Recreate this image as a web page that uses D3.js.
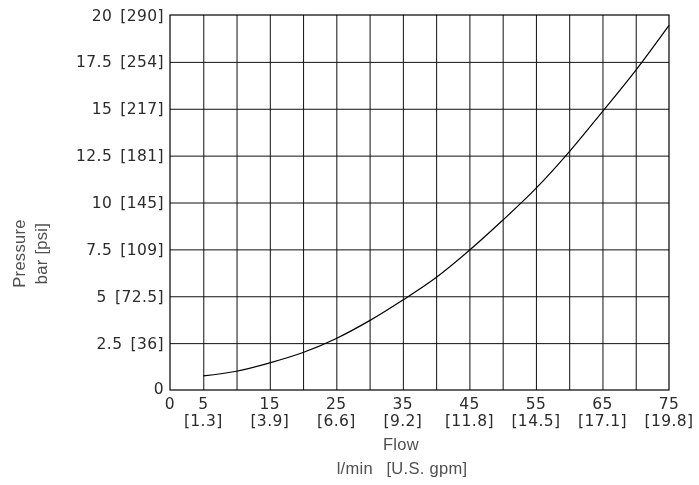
<!DOCTYPE html>
<html>
<head>
<meta charset="utf-8">
<script src="https://cdn.jsdelivr.net/npm/d3@7"></script>
<style>
  html, body { margin: 0; padding: 0; background: #fff; }
  svg { display: block; will-change: transform; }
  .tick-label { font-family: "DejaVu Sans", sans-serif; font-size: 15.5px; fill: #2b2b2b; letter-spacing: 0.4px; white-space: pre; }
  .axis-title { font-family: "Liberation Sans", Arial, sans-serif; font-size: 16.5px; fill: #505050; letter-spacing: 0.3px; white-space: pre; }
</style>
</head>
<body>
<svg id="chart" width="699" height="485"></svg>
<script>
// Flow (l/min) vs pressure drop (bar)
const flowLpm = [5, 10, 15, 20, 25, 30, 35, 40, 45, 50, 55, 60, 65, 70, 75];
const pressureBar = [0.75, 1.0, 1.45, 2.0, 2.75, 3.7, 4.8, 6.0, 7.45, 9.05, 10.75, 12.7, 14.85, 17.05, 19.45];

// Axis ticks and labels
const xGrid = [5, 10, 15, 20, 25, 30, 35, 40, 45, 50, 55, 60, 65, 70];
const xTicks = [0, 5, 15, 25, 35, 45, 55, 65, 75];
const xTickGpm = ["", "[1.3]", "[3.9]", "[6.6]", "[9.2]", "[11.8]", "[14.5]", "[17.1]", "[19.8]"];
const yTicks = [0, 2.5, 5, 7.5, 10, 12.5, 15, 17.5, 20];
const yTickPsi = ["", "[36]", "[72.5]", "[109]", "[145]", "[181]", "[217]", "[254]", "[290]"];

const svg = d3.select("#chart");
const plotL = 170, plotR = 669, plotT = 15, plotB = 390;

const x = d3.scaleLinear().domain([0, 75]).range([plotL, plotR]);
const y = d3.scaleLinear().domain([0, 20]).range([plotB, plotT]);

// Grid lines
const gx = svg.append("g")
  .attr("transform", `translate(0,${plotB})`)
  .call(d3.axisBottom(x).tickValues(xGrid).tickSize(-(plotB - plotT)).tickFormat(""));
const gy = svg.append("g")
  .attr("transform", `translate(${plotL},0)`)
  .call(d3.axisLeft(y).tickValues(yTicks.slice(1, -1)).tickSize(-(plotR - plotL)).tickFormat(""));
[gx, gy].forEach(g => {
  g.select(".domain").remove();
  g.selectAll(".tick line").attr("stroke", "#111").attr("stroke-width", 1);
});

// Plot frame
svg.append("rect")
  .attr("x", plotL).attr("y", plotT)
  .attr("width", plotR - plotL).attr("height", plotB - plotT)
  .attr("fill", "none").attr("stroke", "#000").attr("stroke-width", 1.2);

// Pressure curve
const line = d3.line()
  .x((d, i) => x(flowLpm[i]))
  .y(d => y(d))
  .curve(d3.curveMonotoneX);
svg.append("path")
  .datum(pressureBar)
  .attr("d", line)
  .attr("fill", "none")
  .attr("stroke", "#000")
  .attr("stroke-width", 1.2);

// Y tick labels: bar [psi]
yTicks.forEach((v, i) => {
  svg.append("text")
    .attr("class", "tick-label")
    .attr("text-anchor", "end")
    .attr("x", plotL - 6)
    .attr("y", v === 0 ? y(v) + 4 : y(v) + 5.5)
    .text(yTickPsi[i] ? `${v}\u2002${yTickPsi[i]}` : `${v}`);
});

// X tick labels: l/min over [gpm]
xTicks.forEach((v, i) => {
  const g = svg.append("g");
  g.append("text")
    .attr("class", "tick-label")
    .attr("text-anchor", "middle")
    .attr("x", x(v))
    .attr("y", 409)
    .text(v);
  if (xTickGpm[i]) {
    g.append("text")
      .attr("class", "tick-label")
      .attr("text-anchor", "middle")
      .attr("x", x(v))
      .attr("y", 425.5)
      .text(xTickGpm[i]);
  }
});

// Axis titles
svg.append("text").attr("class", "axis-title")
  .attr("text-anchor", "middle").attr("x", 401).attr("y", 450).text("Flow");
svg.append("text").attr("class", "axis-title")
  .attr("text-anchor", "middle").attr("x", 402).attr("y", 474)
  .text("l/min\u2002 [U.S. gpm]");
const yt = svg.append("g").attr("transform", "translate(0,253.5) rotate(-90)");
yt.append("text").attr("class", "axis-title")
  .attr("text-anchor", "middle").attr("x", 0).attr("y", 25).text("Pressure");
yt.append("text").attr("class", "axis-title")
  .attr("text-anchor", "middle").attr("x", 0).attr("y", 47).text("bar [psi]");
</script>
</body>
</html>
